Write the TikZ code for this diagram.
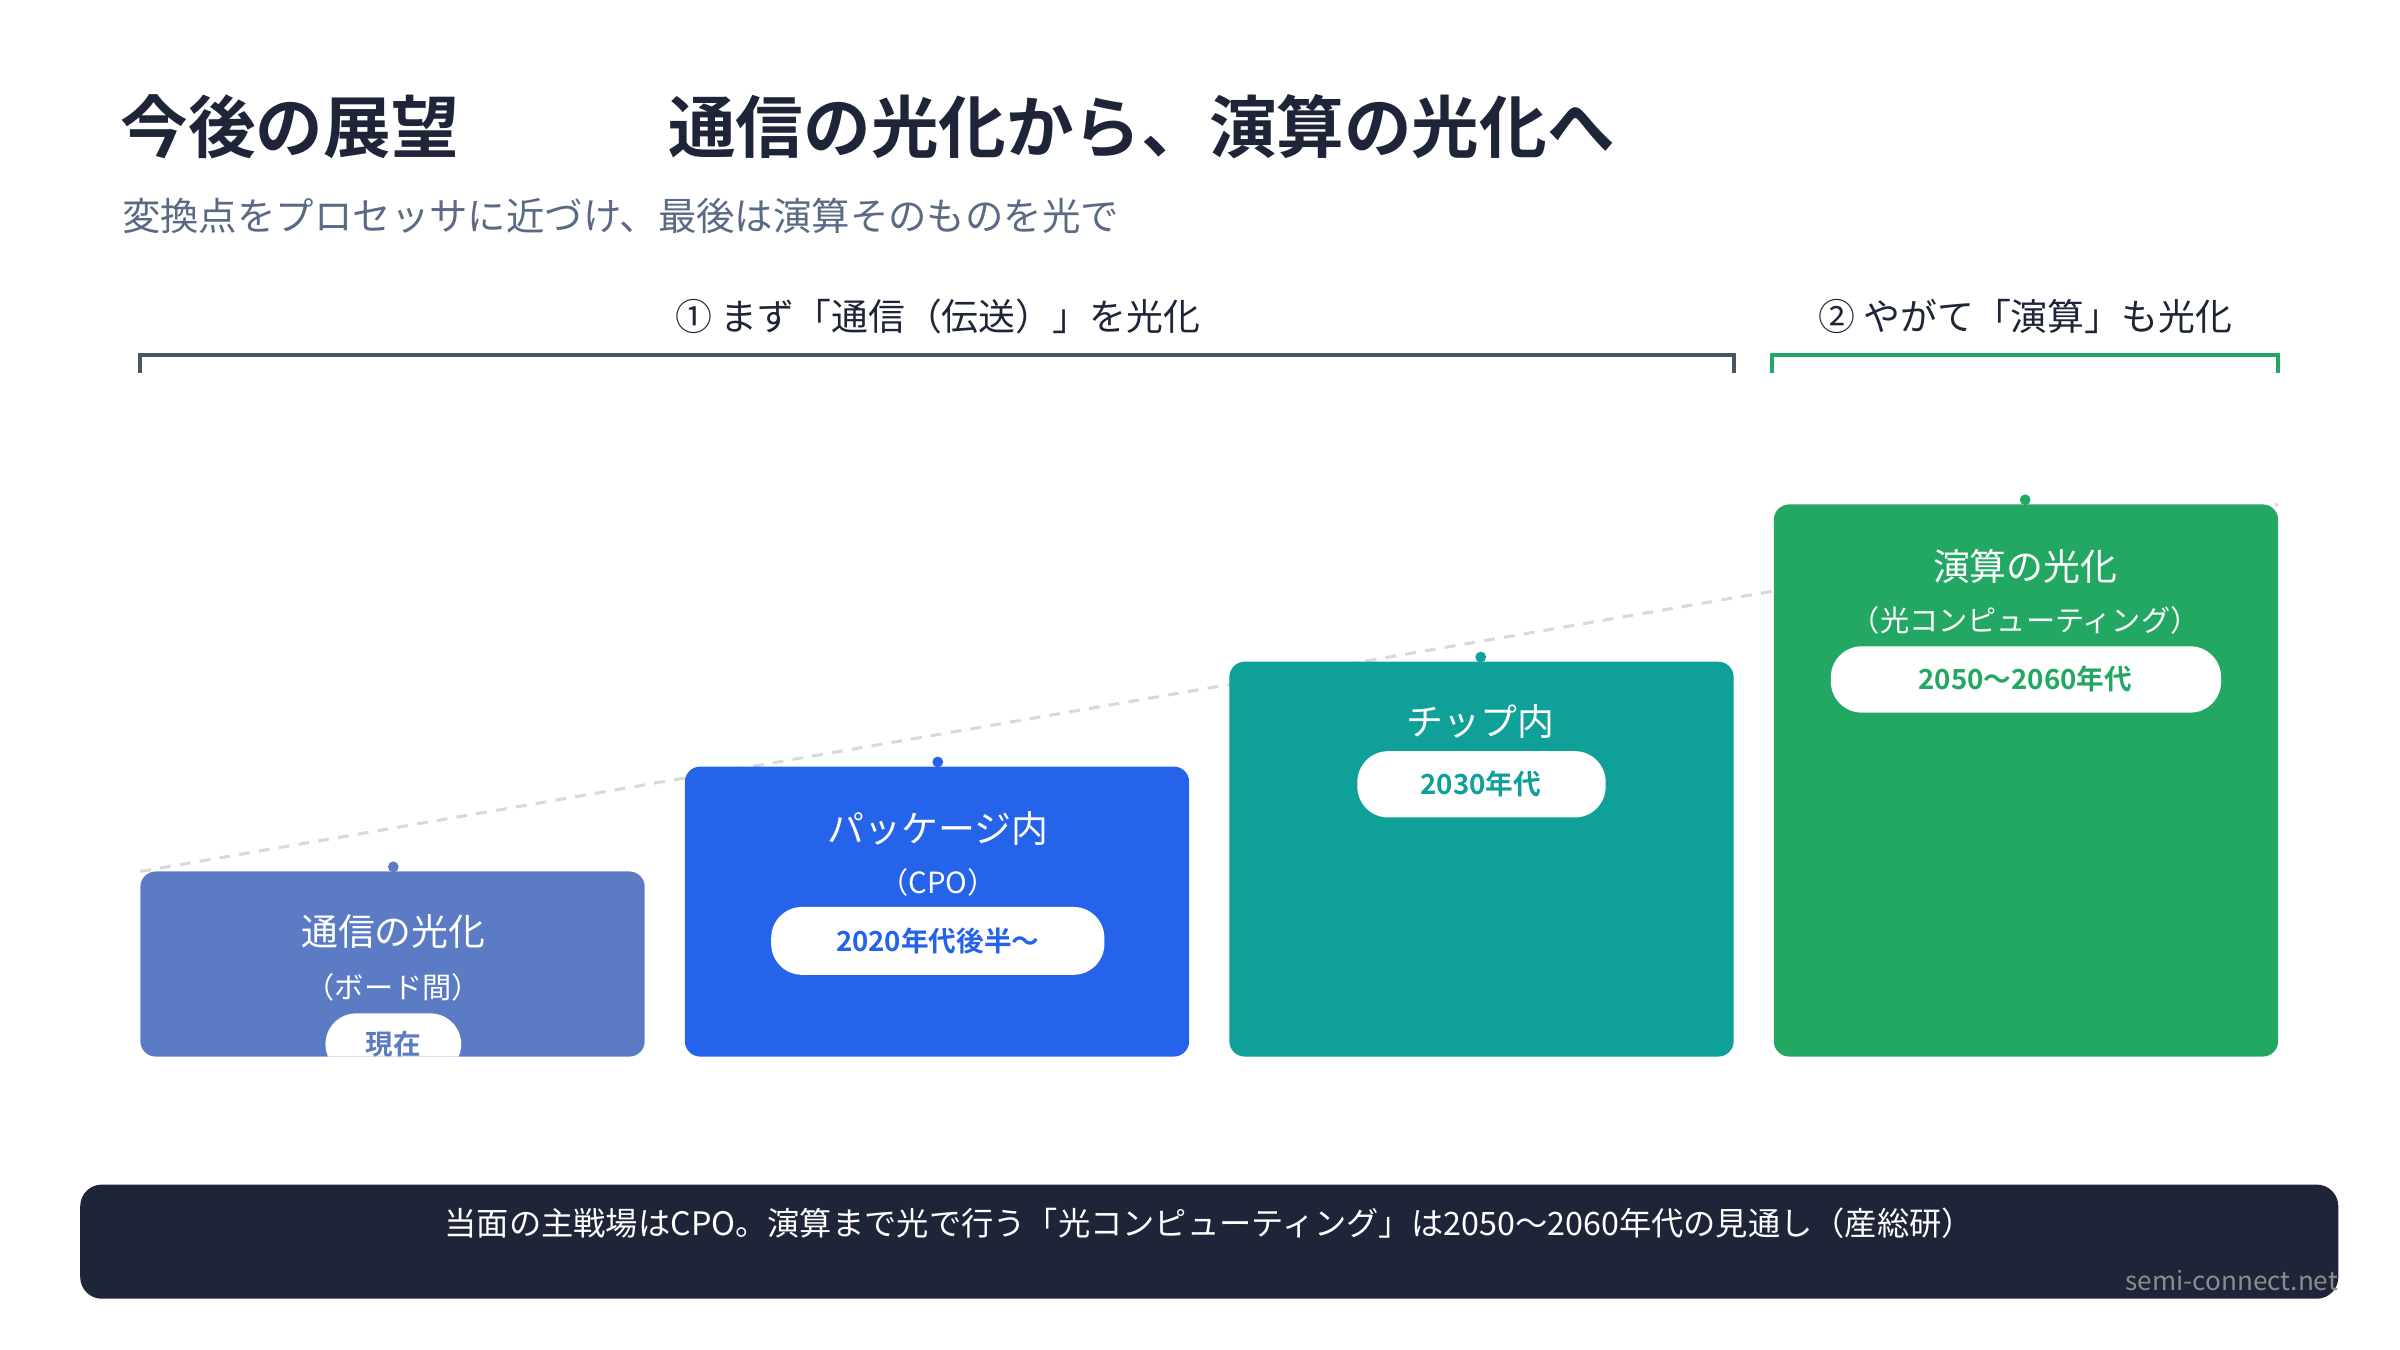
\documentclass[tikz,border=0pt]{standalone}
\usepackage{fontspec}
\setmainfont{Noto Sans CJK JP}
\newfontfamily\jpb{Noto Sans CJK JP Bold}
\definecolor{cA}{HTML}{5B7CC4}
\definecolor{cB}{HTML}{2563EB}
\definecolor{cC}{HTML}{10A09A}
\definecolor{cD}{HTML}{22A862}
\definecolor{ink}{HTML}{1E2538}
\definecolor{sub}{HTML}{5A6A85}
\definecolor{brk}{HTML}{4A5568}
\tikzset{
 box/.style={rounded corners=10bp},
 ttl/.style={text=white,font=\fontsize{24}{28}\selectfont},
 sttl/.style={text=white,font=\fontsize{19}{22}\selectfont},
 pill/.style={fill=white,rounded corners=20bp},
 ptxt/.style={font=\jpb\fontsize{18}{21}\selectfont},
 dot/.style={circle,inner sep=0pt,minimum size=7bp}
}
\begin{document}
\begin{tikzpicture}[x=1bp,y=-1bp]
\useasboundingbox (0,0) rectangle (1556,875);
\node[anchor=west,text=ink,font=\jpb\fontsize{44}{50}\selectfont,inner sep=0] (t1) at (78,82) {今後の展望};
\node[anchor=west,text=ink,font=\jpb\fontsize{44}{50}\selectfont,inner sep=0] (t2) at (433,82) {通信の光化から、演算の光化へ};
\node[anchor=west,text=sub,font=\fontsize{25}{30}\selectfont,inner sep=0] (st) at (79,140) {変換点をプロセッサに近づけ、最後は演算そのものを光で};
% brackets
\draw[brk,line width=2.5bp] (91,242) -- (91,230) -- (1124,230) -- (1124,242);
\node[text=ink,font=\fontsize{24}{28}\selectfont] (l1) at (608,205) {① まず「通信（伝送）」を光化};
\draw[cD,line width=2.5bp] (1149,242) -- (1149,230) -- (1477,230) -- (1477,242);
\node[text=ink,font=\fontsize{24}{28}\selectfont] (l2) at (1313,205) {② やがて「演算」も光化};
\draw[color=black!15,dashed,line width=2bp,dash pattern=on 7bp off 6bp] (91,565) -- (1477,327);
% boxes
\fill[cA,box] (91,565) rectangle (418,685);
\fill[cB,box] (444,497) rectangle (771,685);
\fill[cC,box] (797,429) rectangle (1124,685);
\fill[cD,box] (1150,327) rectangle (1477,685);
\node[dot,fill=cA] (d1) at (255,562) {};
\node[dot,fill=cB] (d2) at (608,494) {};
\node[dot,fill=cC] (d3) at (960,426) {};
\node[dot,fill=cD] (d4) at (1313,324) {};
% box1
\node[ttl] (b1t) at (255,604) {通信の光化};
\node[sttl] (b1s) at (255,640) {（ボード間）};
\begin{scope}
\clip[box] (91,565) rectangle (418,685);
\fill[white,rounded corners=20bp] (211,657) rectangle (299,697);
\end{scope}
\node[ptxt,text=cA] (p1) at (255,677) {現在};
% box2
\node[ttl] (b2t) at (608,537) {パッケージ内};
\node[sttl] (b2s) at (608,572) {（CPO）};
\fill[pill] (500,588) rectangle (716,632);
\node[ptxt,text=cB] (p2) at (608,610) {2020年代後半〜};
% box3
\node[ttl] (b3t) at (960,468) {チップ内};
\fill[pill] (880,487) rectangle (1041,530);
\node[ptxt,text=cC] (p3) at (960,508) {2030年代};
% box4
\node[ttl] (b4t) at (1313,367) {演算の光化};
\node[sttl] (b4s) at (1313,402) {（光コンピューティング）};
\fill[pill] (1187,419) rectangle (1440,462);
\node[ptxt,text=cD] (p4) at (1313,440) {2050〜2060年代};
% footer
\fill[ink,rounded corners=14bp] (52,768) rectangle (1516,842);
\node[text=white,font=\fontsize{21}{25}\selectfont] (ft) at (784,793) {当面の主戦場はCPO。演算まで光で行う「光コンピューティング」は2050〜2060年代の見通し（産総研）};
\node[anchor=east,text=black!45,font=\fontsize{17}{20}\selectfont,inner sep=0] (src) at (1516,830) {semi-connect.net};
\end{tikzpicture}
\end{document}
